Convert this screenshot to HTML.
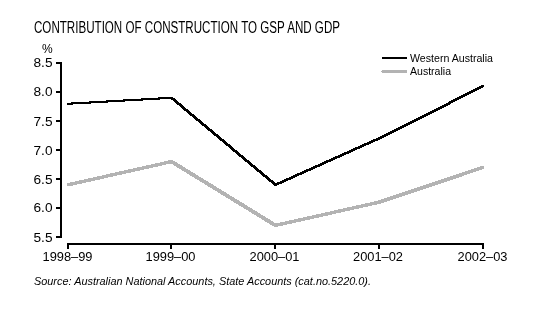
<!DOCTYPE html>
<html><head><meta charset="utf-8">
<style>
html,body{margin:0;padding:0;background:#fff;width:544px;height:313px;overflow:hidden}
svg{display:block;will-change:transform}
text{font-family:"Liberation Sans",sans-serif;fill:#000}
</style></head>
<body>
<svg width="544" height="313" viewBox="0 0 544 313">
<rect width="544" height="313" fill="#fff"/>
<text x="34" y="33" font-size="16" textLength="306" lengthAdjust="spacingAndGlyphs">CONTRIBUTION OF CONSTRUCTION TO GSP AND GDP</text>
<!-- y axis -->
<g shape-rendering="crispEdges" fill="#000">
<rect x="60" y="62" width="2" height="176"/>
<rect x="56" y="62" width="4" height="2"/>
<rect x="56" y="91" width="4" height="2"/>
<rect x="56" y="120" width="4" height="2"/>
<rect x="56" y="149" width="4" height="2"/>
<rect x="56" y="178" width="4" height="2"/>
<rect x="56" y="207" width="4" height="2"/>
<rect x="56" y="236" width="4" height="2"/>
<!-- x axis -->
<rect x="67" y="243" width="417" height="2"/>
<rect x="67" y="243" width="2" height="6"/>
<rect x="170" y="243" width="2" height="6"/>
<rect x="274" y="243" width="2" height="6"/>
<rect x="378" y="243" width="2" height="6"/>
<rect x="482" y="243" width="2" height="6"/>
</g>
<g font-size="12" text-anchor="end">
<text x="52.5" y="67" textLength="19" lengthAdjust="spacingAndGlyphs">8.5</text>
<text x="52.5" y="96" textLength="19" lengthAdjust="spacingAndGlyphs">8.0</text>
<text x="52.5" y="126" textLength="19" lengthAdjust="spacingAndGlyphs">7.5</text>
<text x="52.5" y="155" textLength="19" lengthAdjust="spacingAndGlyphs">7.0</text>
<text x="52.5" y="184" textLength="19" lengthAdjust="spacingAndGlyphs">6.5</text>
<text x="52.5" y="212" textLength="19" lengthAdjust="spacingAndGlyphs">6.0</text>
<text x="52.5" y="242" textLength="19" lengthAdjust="spacingAndGlyphs">5.5</text>
</g>
<text x="42" y="53" font-size="12">%</text>
<g font-size="12" text-anchor="middle">
<text x="67.5" y="261" textLength="50" lengthAdjust="spacingAndGlyphs">1998–99</text>
<text x="170.5" y="261" textLength="50" lengthAdjust="spacingAndGlyphs">1999–00</text>
<text x="274.5" y="261" textLength="50" lengthAdjust="spacingAndGlyphs">2000–01</text>
<text x="378" y="261" textLength="50" lengthAdjust="spacingAndGlyphs">2001–02</text>
<text x="482.5" y="261" textLength="50" lengthAdjust="spacingAndGlyphs">2002–03</text>
</g>
<!-- data lines -->
<path id="au" fill="#b3b3b3" shape-rendering="crispEdges" d="M66.75,183.30 L170.25,160.10 L172.75,160.10 L172.75,163.10 L69.25,186.30 L66.75,186.30ZM170.25,160.10 L172.75,160.10 L276.75,223.90 L276.75,226.90 L274.25,226.90 L170.25,163.10ZM274.25,223.90 L377.75,200.70 L380.25,200.70 L380.25,203.70 L276.75,226.90 L274.25,226.90ZM377.75,200.70 L481.75,165.90 L484.25,165.90 L484.25,168.90 L380.25,203.70 L377.75,203.70Z"/>
<path id="wa" fill="#000" shape-rendering="crispEdges" d="M67.00,102.75 L170.50,96.80 L172.50,96.80 L172.50,98.80 L69.00,104.75 L67.00,104.75ZM170.50,96.80 L172.50,96.80 L276.50,183.80 L276.50,185.80 L274.50,185.80 L170.50,98.80ZM274.50,183.80 L378.00,137.40 L380.00,137.40 L380.00,139.40 L276.50,185.80 L274.50,185.80ZM378.00,137.40 L482.00,85.20 L484.00,85.20 L484.00,87.20 L380.00,139.40 L378.00,139.40Z"/>
<!-- legend -->
<rect x="382" y="57" width="25" height="2" fill="#000" shape-rendering="crispEdges"/>
<rect x="382" y="70" width="25" height="3" fill="#b3b3b3" shape-rendering="crispEdges"/><rect x="381" y="71" width="1" height="1" fill="#b3b3b3" shape-rendering="crispEdges"/>
<text x="410" y="62" font-size="11" textLength="83" lengthAdjust="spacingAndGlyphs">Western Australia</text>
<text x="410" y="75" font-size="11" textLength="41" lengthAdjust="spacingAndGlyphs">Australia</text>
<text x="34" y="285" font-size="10.5" font-style="italic" textLength="337" lengthAdjust="spacingAndGlyphs">Source: Australian National Accounts, State Accounts (cat.no.5220.0).</text>
</svg>
</body></html>
